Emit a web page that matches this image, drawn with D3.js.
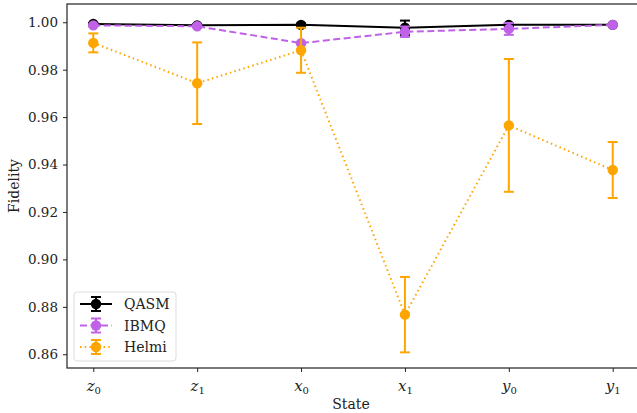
<!DOCTYPE html>
<html>
<head>
<meta charset="utf-8">
<script src="https://cdn.jsdelivr.net/npm/d3@7"></script>
<style>
  body { margin: 0; background: #fff; }
  svg text { font-family: "DejaVu Serif", "Liberation Serif", serif; }
</style>
</head>
<body>
<svg width="637" height="413"></svg>
<script>
// states along the x axis
var states = ["z", "z", "x", "x", "y", "y"];
var stateSubs = ["0", "1", "0", "1", "0", "1"];

var series = ["QASM", "IBMQ", "Helmi"];
var qasm = [0.9993, 0.9987, 0.9989, 0.9977, 0.9989, 0.9989];
var qasmErr = [0.0004, 0.0004, 0.0006, 0.003, 0.0006, 0.0003];
var ibmq = [0.9987, 0.9983, 0.9912, 0.996, 0.9972, 0.9989];
var ibmqErr = [0.0004, 0.0004, 0.0005, 0.0022, 0.0025, 0.0003];
var helmi = [0.9913, 0.9743, 0.9882, 0.8767, 0.9565, 0.9377];
var helmiErr = [0.004, 0.0172, 0.0095, 0.0159, 0.028, 0.0118];

var yTicks = [0.86, 0.88, 0.90, 0.92, 0.94, 0.96, 0.98, 1.00];

var colors = ["#000000", "#bf62e8", "#ffa500"];
var dashes = [null, "7,3.5", "1.5,3.2"];

var margin = {left: 67, top: 4, right: -2, bottom: 45};
var width = 637, height = 413;
var serif = "DejaVu Serif";

var svg = d3.select("svg");

var x = d3.scaleLinear()
    .domain([-0.253, 5.253])
    .range([margin.left, width - margin.right]);
var y = d3.scaleLinear()
    .domain([0.8542, 1.0077])
    .range([height - margin.bottom, margin.top]);

// plot frame
svg.append("rect")
    .attr("x", x.range()[0]).attr("y", y.range()[1])
    .attr("width", x.range()[1] - x.range()[0])
    .attr("height", y.range()[0] - y.range()[1])
    .attr("fill", "none")
    .attr("stroke", "#222")
    .attr("stroke-width", 1.2);

// y axis
var yAxis = svg.append("g")
    .attr("transform", "translate(" + margin.left + ",0)")
    .call(d3.axisLeft(y).tickValues(yTicks).tickFormat(d3.format(".2f")).tickSize(4).tickPadding(5));
yAxis.select(".domain").remove();
yAxis.selectAll("text").attr("font-size", 13.5).attr("fill", "#222").attr("font-family", serif);
yAxis.selectAll("line").attr("stroke", "#222");

// x axis
var xAxis = svg.append("g")
    .attr("transform", "translate(0," + y.range()[0] + ")")
    .call(d3.axisBottom(x).tickValues(d3.range(states.length)).tickFormat("").tickSize(4));
xAxis.select(".domain").remove();
xAxis.selectAll("line").attr("stroke", "#222");
xAxis.selectAll(".tick").append("text")
    .attr("y", 23)
    .attr("fill", "#222")
    .attr("text-anchor", "middle")
    .attr("font-size", 15)
    .attr("font-family", serif)
    .each(function(d, i) {
        var t = d3.select(this);
        t.append("tspan").attr("font-style", "italic").text(states[i]);
        t.append("tspan").attr("font-size", 10).attr("dy", 3).text(stateSubs[i]);
    });

// axis labels
svg.append("text")
    .attr("x", (x.range()[0] + x.range()[1]) / 2 - 2)
    .attr("y", 409)
    .attr("text-anchor", "middle")
    .attr("font-size", 14)
    .attr("font-family", serif)
    .attr("fill", "#222")
    .text("State");
svg.append("text")
    .attr("transform", "translate(19," + ((y.range()[0] + y.range()[1]) / 2) + ") rotate(-90)")
    .attr("text-anchor", "middle")
    .attr("font-size", 14)
    .attr("font-family", serif)
    .attr("fill", "#222")
    .text("Fidelity");

var allVals = [qasm, ibmq, helmi];
var allErr = [qasmErr, ibmqErr, helmiErr];

var line = d3.line()
    .x(function(d, i) { return x(i); })
    .y(function(d) { return y(d); });

// series drawn in plotting order, like matplotlib
allVals.forEach(function(vals, s) {
    var g = svg.append("g");
    // error bars
    var eb = g.selectAll(".eb").data(vals).enter().append("g");
    eb.append("line")
        .attr("x1", function(d, i) { return x(i); })
        .attr("x2", function(d, i) { return x(i); })
        .attr("y1", function(d, i) { return y(d - allErr[s][i]); })
        .attr("y2", function(d, i) { return y(d + allErr[s][i]); })
        .attr("stroke", colors[s]).attr("stroke-width", 2);
    [-1, 1].forEach(function(sign) {
        eb.append("line")
            .attr("x1", function(d, i) { return x(i) - 5; })
            .attr("x2", function(d, i) { return x(i) + 5; })
            .attr("y1", function(d, i) { return y(d + sign * allErr[s][i]); })
            .attr("y2", function(d, i) { return y(d + sign * allErr[s][i]); })
            .attr("stroke", colors[s]).attr("stroke-width", 2);
    });
    g.append("path")
        .datum(vals)
        .attr("d", line)
        .attr("fill", "none")
        .attr("stroke", colors[s])
        .attr("stroke-width", 2)
        .attr("stroke-dasharray", dashes[s]);
    g.selectAll("circle").data(vals).enter().append("circle")
        .attr("cx", function(d, i) { return x(i); })
        .attr("cy", function(d) { return y(d); })
        .attr("r", 5.2)
        .attr("fill", colors[s]);
});

// legend
var legend = svg.append("g").attr("transform", "translate(74,292)");
legend.append("rect")
    .attr("width", 102).attr("height", 69)
    .attr("rx", 3)
    .attr("fill", "#fff").attr("fill-opacity", 0.8)
    .attr("stroke", "#ddd");
series.forEach(function(name, s) {
    var ly = 12 + s * 21.5;
    var item = legend.append("g").attr("transform", "translate(0," + ly + ")");
    item.append("line")
        .attr("x1", 6).attr("x2", 38)
        .attr("stroke", colors[s]).attr("stroke-width", 2)
        .attr("stroke-dasharray", dashes[s]);
    item.append("line")
        .attr("x1", 22).attr("x2", 22).attr("y1", -7).attr("y2", 7)
        .attr("stroke", colors[s]).attr("stroke-width", 2);
    [-7, 7].forEach(function(dy) {
        item.append("line")
            .attr("x1", 17).attr("x2", 27).attr("y1", dy).attr("y2", dy)
            .attr("stroke", colors[s]).attr("stroke-width", 2);
    });
    item.append("circle").attr("cx", 22).attr("r", 5.2).attr("fill", colors[s]);
    item.append("text")
        .attr("x", 50).attr("y", 5)
        .attr("font-size", 14)
        .attr("font-family", serif)
        .attr("fill", "#222")
        .text(name);
});
</script>
</body>
</html>
